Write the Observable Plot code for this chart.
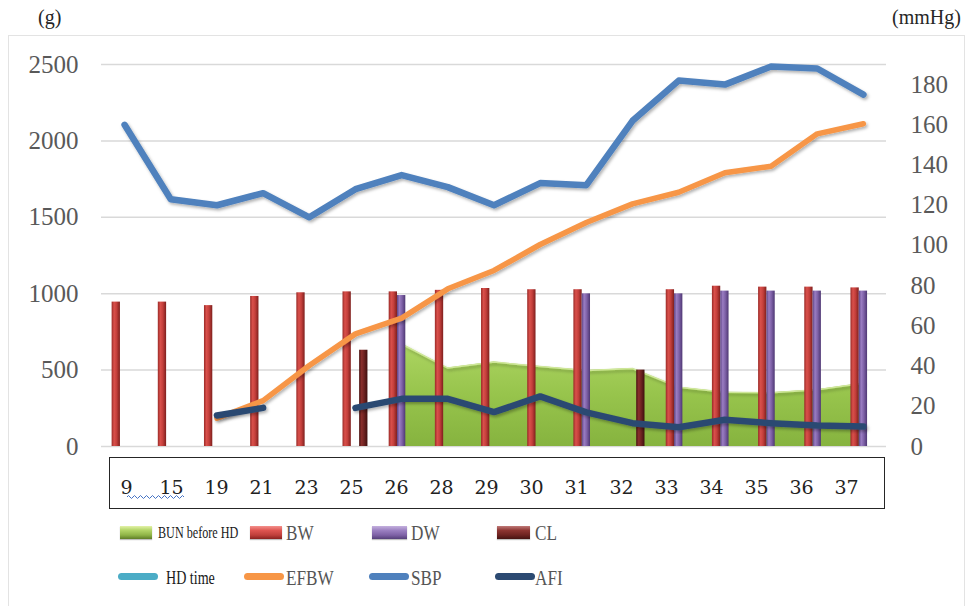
<!DOCTYPE html>
<html>
<head>
<meta charset="utf-8">
<script src="https://cdn.jsdelivr.net/npm/d3@7"></script>
<script src="https://cdn.jsdelivr.net/npm/@observablehq/plot@0.6"></script>
<style>
  body { margin: 0; background: #fff; }
  #wrap { position: relative; width: 966px; height: 606px; overflow: hidden; background: #fff; font-family: "Liberation Serif", serif; }
  #border { position: absolute; left: 8px; top: 35px; width: 957px; height: 620px; border: 1.5px solid #e3e3e3; box-sizing: border-box; }
  #main { position: absolute; left: 0; top: 0; }
  #xlab { position: absolute; left: 0; top: 457px; }
  #xbox { position: absolute; left: 109px; top: 457px; width: 776px; height: 52px; border: 1.6px solid #262626; box-sizing: border-box; }
  #wavy { position: absolute; left: 127px; top: 494px; }
  .unit { position: absolute; top: 6px; font-size: 20px; color: #262626; font-family: "Liberation Serif", serif; }
  .sw { position: absolute; height: 13px; box-shadow: 0 1px 1px rgba(0,0,0,0.25); }
  .ln { position: absolute; height: 7px; border-radius: 4px; }
  .lt { position: absolute; white-space: nowrap; transform-origin: left center; line-height: 1; }
  .big { font-size: 22px; color: #555; transform: translateY(-50%) scaleX(0.78); }
  .small { font-size: 16px; color: #1a1a1a; transform: translateY(-50%) scaleX(0.76); }
  .mid { font-size: 19px; color: #1a1a1a; transform: translateY(-50%) scaleX(0.74); }
</style>
</head>
<body>
<div id="wrap">
  <div id="border"></div>
  <div class="unit" style="left:38px;">(g)</div>
  <div class="unit" style="left:892px;">(mmHg)</div>
  <div id="main"></div>
  <div id="xbox"></div>
  <div id="xlab"></div>
  <svg id="wavy" width="60" height="6"><path d="M0 3 q1.5 -3 3 0 t3 0 t3 0 t3 0 t3 0 t3 0 t3 0 t3 0 t3 0 t3 0 t3 0 t3 0 t3 0 t3 0 t3 0 t3 0 t3 0 t3 0 t3 0" fill="none" stroke="#4472C4" stroke-width="1"/></svg>

  <!-- legend row 1 -->
  <div class="sw" style="left:120px;top:526px;width:32px;background:linear-gradient(to bottom,#e3f2a8 0%,#b5d66a 30%,#8fb447 70%,#5f7d28 100%);"></div>
  <div class="lt small" style="left:158px;top:533px;">BUN before HD</div>
  <div class="sw" style="left:250px;top:526px;width:32px;background:linear-gradient(to bottom,#f4908c 0%,#dd5450 35%,#c0403c 70%,#8a2220 100%);"></div>
  <div class="lt big" style="left:286px;top:533px;">BW</div>
  <div class="sw" style="left:372px;top:526px;width:35px;background:linear-gradient(to bottom,#c4b0de 0%,#9a7fc0 35%,#7e62a6 70%,#55407a 100%);"></div>
  <div class="lt big" style="left:411px;top:533px;">DW</div>
  <div class="sw" style="left:497px;top:526px;width:33px;background:linear-gradient(to bottom,#c07a78 0%,#8c3431 35%,#6e2321 70%,#461312 100%);"></div>
  <div class="lt big" style="left:535px;top:533px;">CL</div>

  <!-- legend row 2 -->
  <div class="ln" style="left:118px;top:573px;width:40px;background:#4BACC6;"></div>
  <div class="lt mid" style="left:166px;top:577px;">HD time</div>
  <div class="ln" style="left:244px;top:573px;width:40px;background:#F79646;"></div>
  <div class="lt big" style="left:286px;top:578px;">EFBW</div>
  <div class="ln" style="left:369px;top:573px;width:40px;background:#4F81BD;"></div>
  <div class="lt big" style="left:411px;top:578px;">SBP</div>
  <div class="ln" style="left:495px;top:573px;width:40px;background:#2C4A72;"></div>
  <div class="lt big" style="left:535px;top:578px;">AFI</div>
</div>

<script>
// ---- data ----
const categories = ["9","15","19","21","23","25","26","28","29","30","31","32","33","34","35","36","37"];
// left axis (g)
const BW   = [945, 945, 922, 982, 1006, 1012, 1012, 1022, 1034, 1026, 1026, null, 1026, 1049, 1043, 1043, 1038];
const DW   = [null, null, null, null, null, null, 988, null, null, null, 999, null, 999, 1017, 1017, 1017, 1017];
const CL   = [null, null, null, null, null, 630, null, null, null, null, null, 500, null, null, null, null, null];
const EFBW = [null, null, 185, 300, 530, 737, 840, 1032, 1152, 1322, 1466, 1588, 1664, 1791, 1834, 2046, 2112];
// right axis (mmHg scale)
const BUN  = [null, null, null, null, null, null, 51, 39, 42, 39.8, 37.8, 38.8, 29.5, 27, 26.7, 28.2, 31.5];
const SBP  = [160, 123, 120, 126, 114, 128, 135, 129, 120, 131, 130, 162, 182, 180, 189, 188, 175];
const AFI  = [null, null, 15.4, 19.2, null, 19.2, 23.7, 23.7, 17.1, 24.9, 17, 11.6, 9.6, 13.3, 11.6, 10.4, 9.9];

const leftTicks  = [0, 500, 1000, 1500, 2000, 2500];
const rightTicks = [0, 20, 40, 60, 80, 100, 120, 140, 160, 180];
const leftMax = 2500, rightMax = 190;
const k = leftMax / rightMax; // right-axis units -> left-axis units

// ---- tables ----
const rows = (arr, f = 1) => arr.map((v, i) => ({i, v: v == null ? NaN : v * f}));
const present = (arr, f = 1) => rows(arr, f).filter(d => !isNaN(d.v));
const bw = present(BW), dw = present(DW), cl = present(CL);
const bun = present(BUN, k);
const efbw = rows(EFBW).filter(d => d.i >= 2);
const sbp = rows(SBP, k);
const afi = rows(AFI, k).filter(d => d.i >= 2);

const w = 0.18; // bar width in category units
const lineOpts = {x: "i", y: "v", strokeLinecap: "round", strokeLinejoin: "round"};

const main = Plot.plot({
  width: 966, height: 515,
  marginLeft: 101, marginRight: 80, marginTop: 64, marginBottom: 69,
  x: {type: "linear", domain: [-0.5, categories.length - 0.5], axis: null},
  y: {domain: [0, leftMax]},
  style: {fontFamily: "Liberation Serif", color: "#595959", background: "transparent", overflow: "visible"},
  marks: [
    Plot.gridY(leftTicks, {stroke: "#d9d9d9", strokeOpacity: 1, strokeWidth: 1.5}),
    Plot.axisY(leftTicks, {anchor: "left", tickSize: 0, tickPadding: 23, fontSize: 25, label: null, tickFormat: d => String(d)}),
    Plot.axisY(rightTicks.map(v => v * k), {anchor: "right", tickSize: 0, tickPadding: 24, fontSize: 25, label: null, tickFormat: d => String(Math.round(d / k))}),
    Plot.area(bun, {x1: "i", y1: 0, y2: "v", fill: "url(#gBUN)"}),
    Plot.line(bun, {x: "i", y: "v", stroke: "#cfe79a", strokeWidth: 1.5}),
    Plot.rect(bw, {x1: d => d.i - 1.5 * w, x2: d => d.i - 0.5 * w, y1: 0, y2: "v", fill: "url(#gBW)"}),
    Plot.rect(dw, {x1: d => d.i - 0.5 * w, x2: d => d.i + 0.5 * w, y1: 0, y2: "v", fill: "url(#gDW)"}),
    Plot.rect(cl, {x1: d => d.i + 0.5 * w, x2: d => d.i + 1.5 * w, y1: 0, y2: "v", fill: "url(#gCL)"}),
    Plot.line(efbw, {...lineOpts, stroke: "#F79646", strokeWidth: 5.5}),
    Plot.line(sbp, {...lineOpts, stroke: "#4F81BD", strokeWidth: 6.5}),
    Plot.line(afi, {...lineOpts, stroke: "#2C4A72", strokeWidth: 6.5})
  ]
});

// gradients & shadow
const defs = d3.select(main).insert("defs", ":first-child");
function hGrad(id, stops) {
  const g = defs.append("linearGradient").attr("id", id).attr("x1", 0).attr("x2", 1).attr("y1", 0).attr("y2", 0);
  stops.forEach(([o, c]) => g.append("stop").attr("offset", o).attr("stop-color", c));
}
hGrad("gBW", [[0, "#9a2a27"], [0.3, "#d9504b"], [0.6, "#c43f3b"], [1, "#7e1f1d"]]);
hGrad("gDW", [[0, "#5c4385"], [0.3, "#9a7dc2"], [0.6, "#7f62a8"], [1, "#4e3773"]]);
hGrad("gCL", [[0, "#4a1312"], [0.3, "#8a2f2c"], [0.6, "#6e2321"], [1, "#3e0f0e"]]);
const gb = defs.append("linearGradient").attr("id", "gBUN").attr("x1", 0).attr("x2", 0).attr("y1", 0).attr("y2", 1);
[[0, "#c6e386"], [0.08, "#a9d25e"], [0.5, "#97c44c"], [1, "#86b33f"]].forEach(([o, c]) => gb.append("stop").attr("offset", o).attr("stop-color", c));
const f = defs.append("filter").attr("id", "shadow").attr("x", "-5%").attr("y", "-20%").attr("width", "110%").attr("height", "140%");
f.append("feDropShadow").attr("dx", 1.5).attr("dy", 2).attr("stdDeviation", 1.5).attr("flood-color", "#000").attr("flood-opacity", 0.3);
d3.select(main).selectAll('g[aria-label="line"]').attr("filter", "url(#shadow)");

document.getElementById("main").appendChild(main);

// category labels inside the framed box
const xlab = Plot.plot({
  width: 966, height: 52,
  marginLeft: 103.5, marginRight: 97.5, marginTop: 0, marginBottom: 0,
  x: {type: "linear", domain: [-0.5, categories.length - 0.5], axis: null},
  style: {fontFamily: "DejaVu Serif", background: "transparent", overflow: "visible"},
  marks: [
    Plot.text(categories, {x: (d, i) => i, text: d => d, frameAnchor: "middle", fontSize: 19, dy: 4, fill: "#222"})
  ]
});
document.getElementById("xlab").appendChild(xlab);
</script>
</body>
</html>
